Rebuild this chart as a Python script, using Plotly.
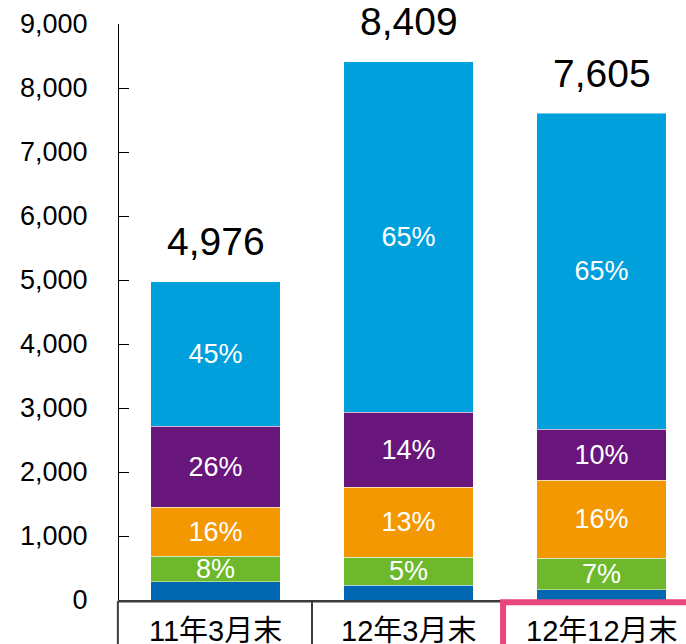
import plotly.graph_objects as go

categories = ["11年3月末", "12年3月末", "12年12月末"]
totals = [4976, 8409, 7605]
seg_darkblue = [289, 227, 164]
seg_green = [391, 438, 485]
seg_orange = [767, 1094, 1220]
seg_purple = [1266, 1173, 798]
seg_lightblue = [2263, 5477, 4938]
pct_green = ["8%", "5%", "7%"]
pct_orange = ["16%", "13%", "16%"]
pct_purple = ["26%", "14%", "10%"]
pct_lightblue = ["45%", "65%", "65%"]
y_ticks = [0, 1000, 2000, 3000, 4000, 5000, 6000, 7000, 8000, 9000]

FONT = "Liberation Sans, Arial, Noto Sans CJK JP, sans-serif"
xi = list(range(len(categories)))

series = [
    (seg_darkblue, None, "#0068B0"),
    (seg_green, pct_green, "#6EB92B"),
    (seg_orange, pct_orange, "#F39800"),
    (seg_purple, pct_purple, "#68157C"),
    (seg_lightblue, pct_lightblue, "#00A0DC"),
]

fig = go.Figure()
for vals, labels, color in series:
    fig.add_trace(go.Bar(
        x=xi, y=vals,
        marker=dict(color=color, line=dict(color="rgba(255,255,255,0.45)", width=1)),
        text=labels if labels else None,
        textposition="inside" if labels else "none",
        insidetextanchor="middle",
        constraintext="none",
        textfont=dict(color="white", size=27, family=FONT),
        hoverinfo="skip",
    ))

x_min, x_max = -0.5, -0.5 + 567 / 193.0

annotations = []
for i, t in enumerate(totals):
    annotations.append(dict(x=i, y=t, xref="x", yref="y", text=f"{t:,}",
                            showarrow=False, yanchor="middle", yshift=40,
                            font=dict(size=39, color="black", family=FONT)))
for i, c in enumerate(categories):
    annotations.append(dict(x=i, y=0, xref="x", yref="paper", text=c,
                            showarrow=False, yanchor="middle", yshift=-31,
                            font=dict(size=29, color="black", family=FONT)))

def px(xv):
    return (xv - x_min) / (x_max - x_min)

shapes = [
    dict(type="line", xref="paper", yref="paper", x0=px(-0.5) - 0.002, x1=px(1.49), y0=-0.002, y1=-0.002,
         line=dict(color="#3c3c3c", width=2.5), layer="above"),
    dict(type="line", xref="paper", yref="paper", x0=px(-0.5) - 0.002, x1=px(-0.5) - 0.002, y0=-0.002, y1=-0.2,
         line=dict(color="#3c3c3c", width=2), layer="above"),
    dict(type="line", xref="paper", yref="paper", x0=px(0.5), x1=px(0.5), y0=-0.002, y1=-0.2,
         line=dict(color="#3c3c3c", width=2), layer="above"),
    dict(type="rect", xref="paper", yref="paper", x0=px(1.49), x1=1.2, y0=-0.004, y1=-0.3,
         line=dict(color="#E8467D", width=6), fillcolor="rgba(0,0,0,0)", layer="above"),
]

fig.update_layout(
    barmode="stack",
    bargap=0.33,
    width=686, height=644,
    margin=dict(l=119, r=0, t=24, b=44),
    paper_bgcolor="white", plot_bgcolor="white",
    showlegend=False,
    hovermode=False,
    font=dict(family=FONT, color="black"),
    xaxis=dict(range=[x_min, x_max], showticklabels=False, showgrid=False,
               zeroline=False, showline=False, ticks=""),
    yaxis=dict(range=[0, 9000], tickvals=y_ticks, tickformat=",", showgrid=False,
               zeroline=False, showline=True, linecolor="black", linewidth=1.2,
               ticks="inside", ticklen=10, tickcolor="black", tickwidth=1,
               ticklabelstandoff=25, tickfont=dict(size=27, color="black", family=FONT)),
    annotations=annotations,
    shapes=shapes,
)

fig.write_html("out.html", config={"displayModeBar": False},
               post_script="document.body.style.margin='0';document.body.style.overflow='hidden';")
